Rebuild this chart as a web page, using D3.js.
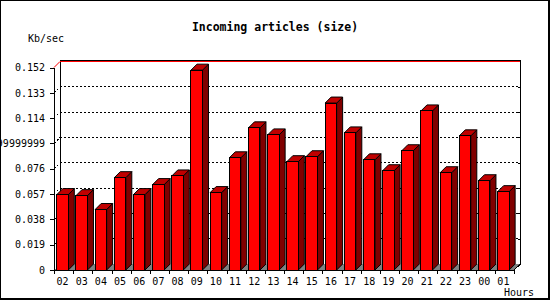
<!DOCTYPE html>
<html>
<head>
<meta charset="utf-8">
<script src="https://cdn.jsdelivr.net/npm/d3@7"></script>
<style>
  body { margin: 0; background: #fff; }
  text { font-family: "DejaVu Sans Mono", monospace; fill: #000; }
</style>
</head>
<body>
<div id="chart"></div>
<script>
// Data
const hours = ["02","03","04","05","06","07","08","09","10","11","12","13",
               "14","15","16","17","18","19","20","21","22","23","00","01"];
const kbPerSec = [0.0566, 0.0558, 0.0454, 0.0693, 0.0566, 0.0641, 0.0706, 0.1500,
                  0.0581, 0.0842, 0.1067, 0.1014, 0.0813, 0.0850, 0.1253, 0.1029,
                  0.0827, 0.0745, 0.0895, 0.1194, 0.0730, 0.1007, 0.0670, 0.0588];
const tickValues = [0, 0.019, 0.038, 0.057, 0.076, 0.095, 0.114, 0.133, 0.152];
const tickLabels = ["0", "0.019", "0.038", "0.057", "0.076", "0.09499999999999999",
                    "0.114", "0.133", "0.152"];
const maxValue = 0.152;

(function() {
    const W = 550, H = 300;
    const depth = 6;              // 3D offset (right / up)
    const barOffset = 2.8, barWidth = 11.5;

    const svg = d3.select("#chart")
        .append("svg")
        .attr("width", W)
        .attr("height", H)
        .attr("shape-rendering", "crispEdges");

    const x = d3.scaleBand()
        .domain(hours)
        .range([54, 514])
        .padding(0);

    const y = d3.scaleLinear()
        .domain([0, maxValue])
        .range([270, 67.5]);

    const x0 = x.range()[0], x1 = x.range()[1];
    const yBase = y(0);

    // outer border
    svg.append("rect")
        .attr("x", 0.5).attr("y", 0.5)
        .attr("width", 548).attr("height", 298)
        .attr("fill", "none").attr("stroke", "#000");
    svg.append("path")
        .attr("d", `M549.5,0 V299.5 H0`)
        .attr("fill", "none").attr("stroke", "#000");

    // title and axis captions
    svg.append("text")
        .attr("x", 275).attr("y", 31)
        .attr("text-anchor", "middle")
        .style("font-size", "11.5px")
        .style("font-weight", "bold")
        .text("Incoming articles (size)");

    svg.append("text")
        .attr("x", 28).attr("y", 42)
        .style("font-size", "10px")
        .text("Kb/sec");

    svg.append("text")
        .attr("x", 534).attr("y", 296)
        .attr("text-anchor", "end")
        .style("font-size", "10px")
        .text("Hours");

    // floor
    svg.append("path")
        .attr("d", `M${x0},${yBase} L${x1},${yBase} L${x1 + depth},${yBase - depth} L${x0 + depth},${yBase - depth} Z`)
        .attr("fill", "#808080");

    // dotted gridlines on the back wall (and the left wall diagonals)
    const grid = svg.append("g");
    tickValues.slice(1, -1).forEach(v => {
        grid.append("path")
            .attr("d", `M${x0},${y(v)} L${x0 + depth},${y(v) - depth} L${x1 + depth},${y(v) - depth}`)
            .attr("fill", "none")
            .attr("stroke", "#000")
            .attr("stroke-dasharray", "2,2");
        // small ticks on the back right edge
        grid.append("line")
            .attr("x1", x1 + depth - 2).attr("x2", x1 + depth)
            .attr("y1", y(v) - depth + 0.5).attr("y2", y(v) - depth + 0.5)
            .attr("stroke", "#000");
    });

    // back frame
    svg.append("path")
        .attr("d", `M${x0 + depth + 0.5},${yBase - depth} V${y(maxValue) - depth - 1} H${x1 + depth + 0.5} V${yBase - depth} L${x1},${yBase}`)
        .attr("fill", "none")
        .attr("stroke", "#000");

    // red max line
    svg.append("path")
        .attr("d", `M${x0},${y(maxValue)} L${x0 + depth},${y(maxValue) - depth} H${x1 + depth}`)
        .attr("fill", "none")
        .attr("stroke", "#ff0000")
        .attr("shape-rendering", "auto");

    // bars
    const bars = svg.append("g")
        .selectAll("g.bar")
        .data(hours.map((h, i) => ({hour: h, value: kbPerSec[i]})))
        .enter()
        .append("g")
        .attr("class", "bar");

    bars.each(function(d) {
        const g = d3.select(this);
        const bx = x(d.hour) + barOffset;
        const by = y(d.value);
        const bw = barWidth;

        // side face
        g.append("path")
            .attr("d", `M${bx + bw},${by} L${bx + bw + depth},${by - depth} L${bx + bw + depth},${yBase - depth} L${bx + bw},${yBase} Z`)
            .attr("fill", "#800000")
            .attr("stroke", "#000")
            .attr("stroke-linejoin", "round")
            .attr("shape-rendering", "auto");
        // top face
        g.append("path")
            .attr("d", `M${bx},${by} L${bx + depth},${by - depth} L${bx + bw + depth},${by - depth} L${bx + bw},${by} Z`)
            .attr("fill", "#c00000")
            .attr("stroke", "#000")
            .attr("stroke-linejoin", "round")
            .attr("shape-rendering", "auto");
        // front face
        g.append("rect")
            .attr("x", bx)
            .attr("y", by)
            .attr("width", bw)
            .attr("height", yBase - by)
            .attr("fill", "#ff0000")
            .attr("stroke", "#000");
    });

    // front y axis
    const yAxis = svg.append("g")
        .attr("transform", `translate(${x0},0)`)
        .call(d3.axisLeft(y)
            .tickValues(tickValues)
            .tickFormat((d, i) => tickLabels[i])
            .tickSize(4)
            .tickSizeOuter(0)
            .tickPadding(5));
    yAxis.selectAll("text")
        .style("font-family", "'DejaVu Sans Mono', monospace")
        .style("font-size", "10px");

    // front x axis
    svg.append("line")
        .attr("x1", x0).attr("x2", x1)
        .attr("y1", yBase + 0.5).attr("y2", yBase + 0.5)
        .attr("stroke", "#000");

    const xTicks = svg.append("g");
    hours.forEach(h => {
        xTicks.append("line")
            .attr("x1", x(h) + 0.5).attr("x2", x(h) + 0.5)
            .attr("y1", yBase).attr("y2", yBase + 4)
            .attr("stroke", "#000");
        xTicks.append("text")
            .attr("x", x(h) + barOffset + barWidth / 2)
            .attr("y", 285)
            .attr("text-anchor", "middle")
            .style("font-size", "10px")
            .text(h);
    });
    xTicks.append("line")
        .attr("x1", x1 + 0.5).attr("x2", x1 + 0.5)
        .attr("y1", yBase).attr("y2", yBase + 4)
        .attr("stroke", "#000");
})();
</script>
</body>
</html>
